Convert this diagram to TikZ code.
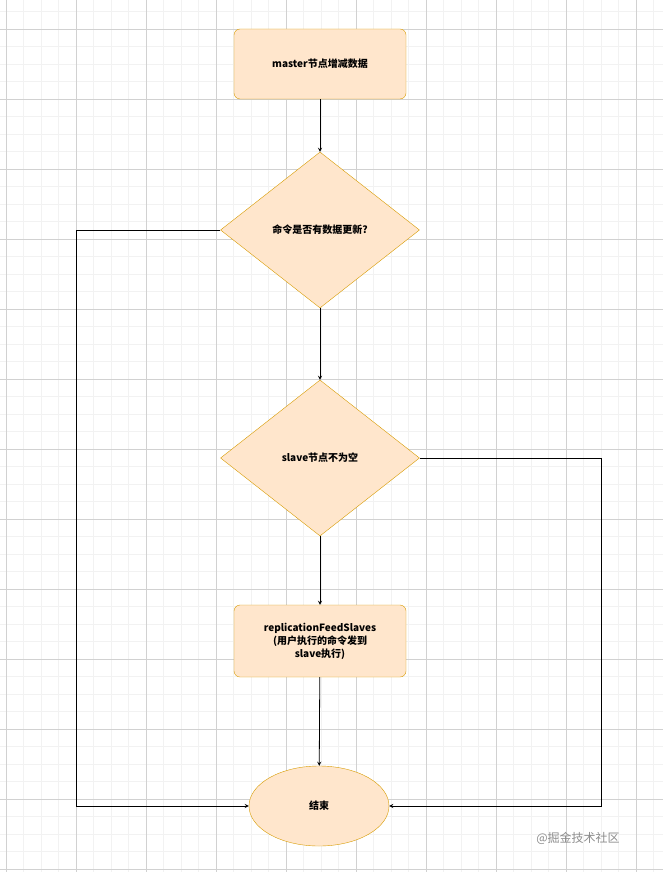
\documentclass[tikz,border=0pt]{standalone}
\usepackage{fontspec}
\setmainfont{Liberation Sans}
\newfontfamily\cjk{Noto Sans CJK SC}
\usetikzlibrary{shapes.geometric,positioning}
\definecolor{boxfill}{HTML}{FFE6CC}
\definecolor{boxline}{HTML}{D79B00}
\tikzset{
  procbox/.style={draw=boxline,fill=boxfill,rounded corners=6pt,minimum width=172pt,minimum height=70pt,align=center,font=\cjk\bfseries\fontsize{10}{13}\selectfont},
  decide/.style={draw=boxline,fill=boxfill,diamond,aspect=1.28,minimum width=199pt,minimum height=156pt,inner sep=0pt,font=\cjk\bfseries\fontsize{10}{13}\selectfont},
  finish/.style={draw=boxline,fill=boxfill,ellipse,minimum width=140pt,minimum height=80pt,font=\cjk\bfseries\fontsize{10}{13}\selectfont},
  flow/.style={draw,thick,-stealth}
}
\begin{document}
\begin{tikzpicture}[x=1pt,y=-1pt]
\useasboundingbox (0,0) rectangle (663,872);
% grid
\foreach \i in {0,...,38} \draw[black!5] ({6+17.5*\i},0) -- ({6+17.5*\i},872);
\foreach \i in {-1,...,50} \draw[black!5] (0,{29+17.5*\i}) -- (663,{29+17.5*\i});
\foreach \i in {0,...,9} \draw[black!18] ({6+70*\i},0) -- ({6+70*\i},872);
\foreach \i in {-1,...,12} \draw[black!18] (0,{29+70*\i}) -- (663,{29+70*\i});
% nodes
\node[procbox] (master) at (320,64) {master节点增减数据};
\node[decide] (cmd) at (320,230) {命令是否有数据更新?};
\node[decide] (slave) at (320,458) {slave节点不为空};
\node[procbox,minimum height=72pt] (feed) at (320,641) {replicationFeedSlaves\\ (用户执行的命令发到\\ slave执行)};
\node[finish] (end) at (319,806) {结束};
\coordinate (lt) at (76,230);
\coordinate (lb) at (76,806);
\coordinate (rt) at (601,458);
\coordinate (rb) at (601,806);
% connectors
\draw[flow] (master) -- (cmd);
\draw[flow] (cmd) -- (slave);
\draw[flow] (slave) -- (feed);
\draw[flow] (feed) -- (end);
\draw[flow] (cmd.west) -- (lt) -- (lb) -- (end.west);
\draw[flow] (slave.east) -- (rt) -- (rb) -- (end.east);
\node[text=black!45,font=\cjk\fontsize{12}{14}\selectfont] (mark) at (578,838) {@掘金技术社区};
\end{tikzpicture}
\end{document}
